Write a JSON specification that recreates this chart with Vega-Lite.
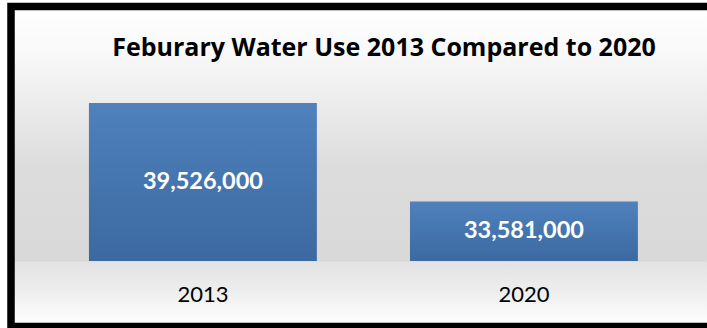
{
  "$schema": "https://vega.github.io/schema/vega-lite/v6.json",
  "width": 696,
  "height": 320,
  "autosize": {"type": "none"},
  "padding": {"left": 11, "top": 6.5, "right": 0, "bottom": 1.5},
  "background": "white",
  "title": {
    "text": "Feburary Water Use 2013 Compared to 2020",
    "font": "Open Sans",
    "fontSize": 25,
    "fontWeight": "bold",
    "color": "#000000",
    "anchor": "middle",
    "offset": 0,
    "dy": 54,
    "dx": 25
  },
  "data": {
    "values": [
      {"year": "2013", "use": 39526000},
      {"year": "2020", "use": 33581000}
    ]
  },
  "encoding": {
    "x": {
      "field": "year",
      "type": "nominal",
      "scale": {"paddingInner": 0.29, "paddingOuter": 0.229, "align": 0.53},
      "axis": {
        "title": null,
        "labelAngle": 0,
        "ticks": false,
        "domain": false,
        "grid": false,
        "labelFont": "Lato",
        "labelFontSize": 22,
        "labelColor": "#000000",
        "offset": -65.5,
        "labelPadding": 23
      }
    }
  },
  "layer": [
    {
      "mark": {
        "type": "bar",
        "fill": {
          "gradient": "linear",
          "x1": 0, "y1": 0, "x2": 0, "y2": 1,
          "stops": [
            {"offset": 0, "color": "#4f81bd"},
            {"offset": 1, "color": "#3c69a0"}
          ]
        }
      },
      "encoding": {
        "y": {
          "field": "use",
          "type": "quantitative",
          "scale": {"domain": [26051000, 45344000], "zero": false, "nice": false},
          "axis": null
        },
        "y2": {"datum": 30000000}
      }
    },
    {
      "transform": [{"calculate": "(datum.use + 30000000) / 2", "as": "mid"}],
      "mark": {
        "type": "text",
        "font": "Lato",
        "fontSize": 23.5,
        "fontWeight": "bold",
        "color": "#ffffff",
        "baseline": "middle",
        "align": "center"
      },
      "encoding": {
        "y": {
          "field": "mid",
          "type": "quantitative",
          "scale": {"domain": [26051000, 45344000], "zero": false, "nice": false},
          "axis": null
        },
        "text": {"field": "use", "type": "quantitative", "format": ",d"}
      }
    }
  ],
  "config": {
    "view": {
      "stroke": "#000000",
      "strokeWidth": 7.5,
      "strokeDash": [696, 320, 1016],
      "fill": {
        "gradient": "linear",
        "x1": 0, "y1": 0, "x2": 0, "y2": 1,
        "stops": [
          {"offset": 0, "color": "#ffffff"},
          {"offset": 0.15, "color": "#f8f8f8"},
          {"offset": 0.35, "color": "#e8e8e8"},
          {"offset": 0.5, "color": "#dcdcdc"},
          {"offset": 0.795, "color": "#d9d9d9"},
          {"offset": 0.8, "color": "#e3e3e3"},
          {"offset": 0.9, "color": "#efefef"},
          {"offset": 0.97, "color": "#fbfbfb"},
          {"offset": 1, "color": "#ffffff"}
        ]
      }
    }
  }
}
